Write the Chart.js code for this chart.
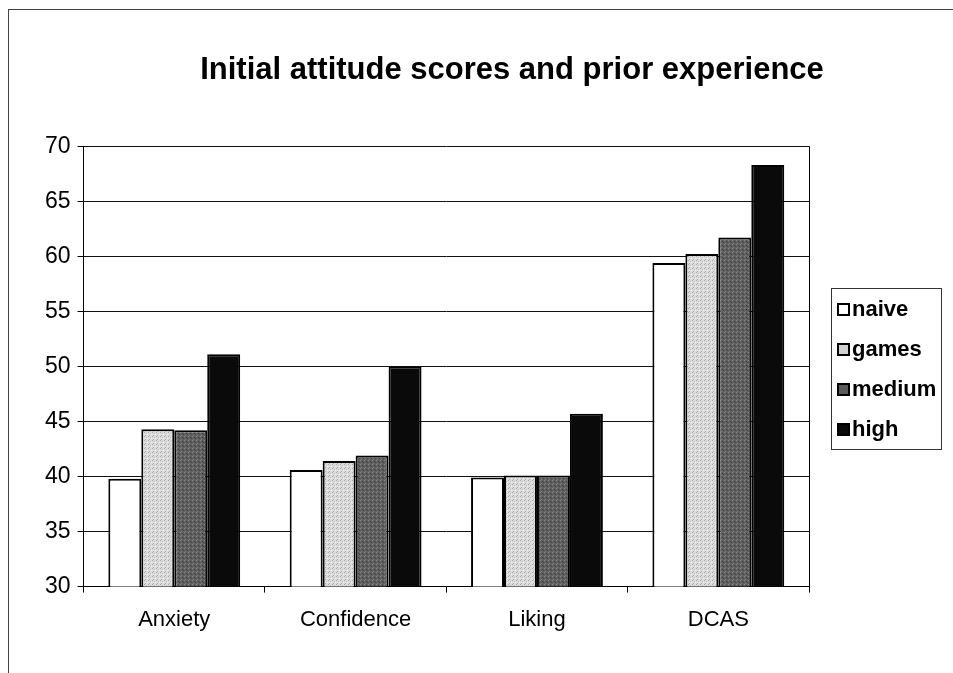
<!DOCTYPE html>
<html>
<head>
<meta charset="utf-8">
<script src="https://cdn.jsdelivr.net/npm/chart.js@4.4.0/dist/chart.umd.min.js"></script>
<style>
  html, body { margin: 0; padding: 0; background: #fff; }
  #wrap { position: relative; width: 953px; height: 673px; overflow: hidden; }
  #frame { position: absolute; left: 8px; top: 9px; right: -2px; bottom: -2px;
           border-top: 1px solid #444; border-left: 1px solid #444; }
  #myChart { position: absolute; left: 0; top: 0; }
  #legend { position: absolute; left: 831px; top: 288px; width: 111px; height: 162px;
            border: 1px solid #333; box-sizing: border-box;
            font: bold 22px "Liberation Sans", Arial, sans-serif; color: #000; }
  #legend ul { list-style: none; margin: 0; padding: 0; }
  #legend li { display: flex; align-items: center; height: 40px; padding-left: 5px; }
  #legend .swatch { width: 13px; height: 13px; border: 2px solid #000; box-sizing: border-box; margin-right: 2px; }
</style>
</head>
<body>
<div id="wrap">
  <div id="frame"></div>
  <canvas id="myChart" width="953" height="673"></canvas>
  <div id="legend"></div>
</div>
<script>
const categories = ["Anxiety", "Confidence", "Liking", "DCAS"];
const seriesNames = ["naive", "games", "medium", "high"];
const naive = [39.8, 40.6, 39.9, 59.4];
const games = [44.3, 41.4, 40.1, 60.2];
const medium = [44.2, 41.9, 40.1, 61.7];
const high = [51.1, 50.0, 45.7, 68.3];
const yMin = 30;
const yMax = 70;
const yStep = 5;

const FONT = '"Liberation Sans", Arial, sans-serif';

// small stipple tiles to look like the scanned fills
function makePattern(base, dots) {
    const c = document.createElement("canvas");
    c.width = 4;
    c.height = 4;
    const g = c.getContext("2d");
    g.fillStyle = base;
    g.fillRect(0, 0, 4, 4);
    dots.forEach(d => {
        g.fillStyle = d[2];
        g.fillRect(d[0], d[1], 1, 1);
    });
    return g.createPattern(c, "repeat");
}

function setGraph() {
    const ctx = document.getElementById("myChart").getContext("2d");
    const gamesFill = makePattern("#dcdcdc", [[0, 0, "#a9a9a9"], [2, 1, "#c4c4c4"], [1, 3, "#b0b0b0"], [3, 2, "#f2f2f2"]]);
    const mediumFill = makePattern("#606060", [[0, 0, "#8a8a8a"], [2, 1, "#3c3c3c"], [1, 3, "#7a7a7a"], [3, 2, "#444"]]);
    const fills = ["#ffffff", gamesFill, mediumFill, "#0a0a0a"];
    const swatchCss = ["#ffffff", "#d0d0d0", "#5a5a5a", "#0a0a0a"];
    const values = [naive, games, medium, high];

    const titleShift = {
        id: "titleShift",
        afterLayout(chart) {
            chart.titleBlock.left = 71;
            chart.titleBlock.right = 953;
        }
    };

    const chart = new Chart(ctx, {
        type: "bar",
        data: {
            labels: categories,
            datasets: seriesNames.map((name, i) => ({
                label: name,
                data: values[i],
                backgroundColor: fills[i],
                borderColor: "#000",
                borderWidth: 2,
                barPercentage: 1.0,
                categoryPercentage: 0.727
            }))
        },
        options: {
            responsive: false,
            animation: false,
            layout: { padding: { top: 52, left: 38, right: 144, bottom: 26 } },
            plugins: {
                legend: { display: false },
                tooltip: { enabled: false },
                title: {
                    display: true,
                    text: "Initial attitude scores and prior experience",
                    color: "#000",
                    font: { family: FONT, size: 31, weight: "bold" },
                    padding: { top: 0, bottom: 57 }
                }
            },
            scales: {
                x: {
                    offset: true,
                    grid: {
                        offset: true,
                        color: c => (c.type === "scale" ? "#000" : "rgba(0,0,0,0)"),
                        tickColor: "#000",
                        tickLength: 6,
                        lineWidth: 1
                    },
                    border: { display: true, color: "#000", width: 1 },
                    ticks: { color: "#000", padding: 14, font: { family: FONT, size: 22 } }
                },
                y: {
                    min: yMin,
                    max: yMax,
                    ticks: { stepSize: yStep, color: "#000", padding: 7, font: { family: FONT, size: 23 } },
                    grid: { color: "#111", tickColor: "#000", tickLength: 6, lineWidth: 1 },
                    border: { display: true, color: "#000", width: 1 }
                }
            }
        },
        plugins: [titleShift]
    });

    // html legend built from the chart's datasets
    const ul = document.createElement("ul");
    chart.data.datasets.forEach((ds, i) => {
        const li = document.createElement("li");
        const box = document.createElement("span");
        box.className = "swatch";
        box.style.background = swatchCss[i];
        const txt = document.createElement("span");
        txt.textContent = ds.label;
        li.appendChild(box);
        li.appendChild(txt);
        ul.appendChild(li);
    });
    document.getElementById("legend").appendChild(ul);
}

window.onload = () => {
    setGraph();
};
</script>
</body>
</html>
